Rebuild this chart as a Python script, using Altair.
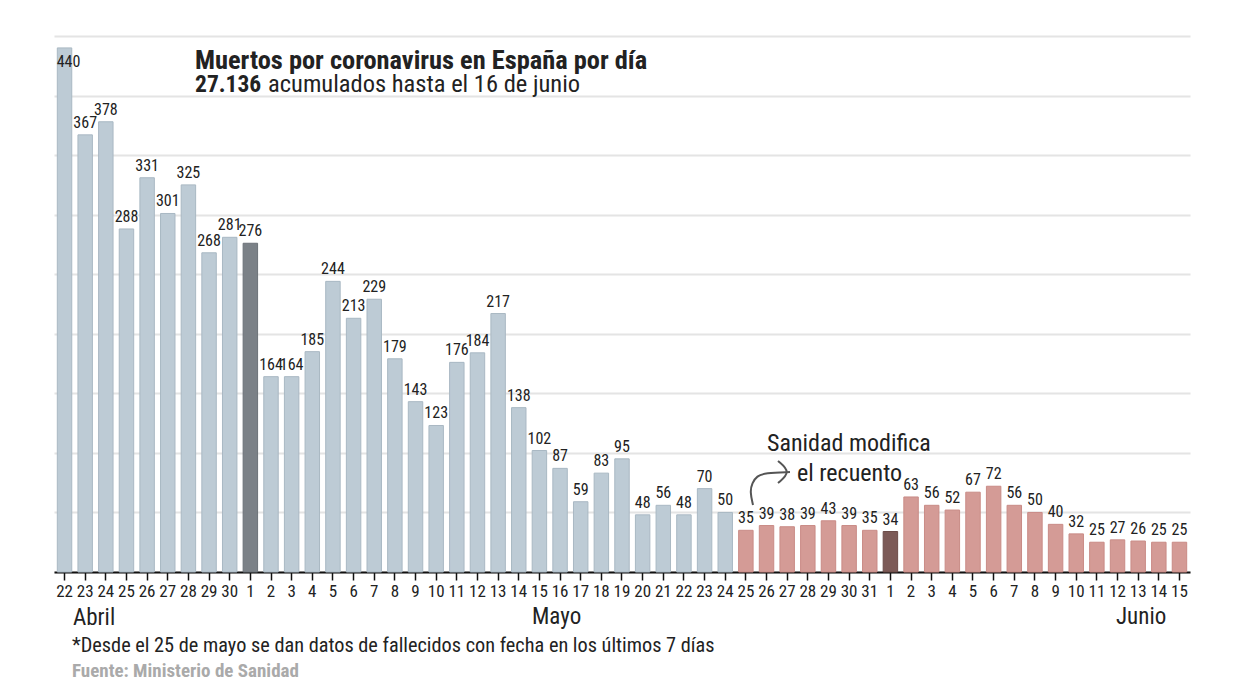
import altair as alt
import pandas as pd

FONT = "Roboto Condensed, Liberation Sans Narrow, DejaVu Sans Condensed, Roboto, sans-serif"

days = list(range(22, 31)) + list(range(1, 32)) + list(range(1, 16))
months = ["abr"] * 9 + ["may"] * 31 + ["jun"] * 15
values = [440, 367, 378, 288, 331, 301, 325, 268, 281,
          276, 164, 164, 185, 244, 213, 229, 179, 143, 123, 176, 184, 217, 138, 102, 87, 59, 83, 95, 48, 56, 48, 70, 50,
          35, 39, 38, 39, 43, 39, 35,
          34, 63, 56, 52, 67, 72, 56, 50, 40, 32, 25, 27, 26, 25, 25]
highlight_keys = ["may-1", "jun-1"]
change_key = "may-25"

keys = [f"{m}-{d}" for m, d in zip(months, days)]
change_idx = keys.index(change_key)
groups = []
for i, k in enumerate(keys):
    per = "antes" if i < change_idx else "despues"
    groups.append(per + ("_dest" if k in highlight_keys else ""))

df = pd.DataFrame({"key": keys, "value": values, "grupo": groups})

color_dom = ["antes", "antes_dest", "despues", "despues_dest"]
fill_rng = ["#bdcbd5", "#7b8187", "#d49b96", "#7c5a57"]
stroke_rng = ["#a9b8c3", "#6c7278", "#c98b86", "#6c4c49"]

x = alt.X("key:N", sort=keys,
          scale=alt.Scale(paddingInner=0.3, paddingOuter=0.16),
          axis=alt.Axis(title=None, labelExpr="split(datum.label,'-')[1]", labelAngle=0,
                        domainColor="#111", domainWidth=2, tickColor="#111", tickSize=8,
                        tickWidth=1.5, labelFontSize=17, labelFont=FONT, labelColor="#222",
                        labelPadding=3, grid=False))
y = alt.Y("value:Q", scale=alt.Scale(domain=[0, 450], nice=False),
          axis=alt.Axis(values=list(range(0, 451, 50)), labels=False, ticks=False, domain=False,
                        title=None, gridColor="#e4e4e4", gridWidth=2))

base = alt.Chart(df)
bars = base.mark_bar(strokeWidth=1).encode(
    x=x, y=y,
    color=alt.Color("grupo:N", scale=alt.Scale(domain=color_dom, range=fill_rng), legend=None),
    stroke=alt.Stroke("grupo:N", scale=alt.Scale(domain=color_dom, range=stroke_rng), legend=None),
)
labels_top = base.transform_filter("datum.value < 420").mark_text(
    baseline="bottom", dy=-4, font=FONT, fontSize=16, color="#222").encode(
    x=x, y=y, text="value:Q")
labels_in = base.transform_filter("datum.value >= 420").mark_text(
    baseline="top", dy=6, dx=4, font=FONT, fontSize=16, color="#222").encode(
    x=x, y=y, text="value:Q")

def txt(s, xp, yp, size, weight="normal", color="#222", align="left"):
    return alt.Chart(pd.DataFrame({"t": [s]})).mark_text(
        align=align, baseline="alphabetic", font=FONT, fontSize=size, fontWeight=weight, color=color
    ).encode(text="t:N", x=alt.value(xp), y=alt.value(yp))

# plot area starts at left=54, top=36 (values are relative to plot origin)
OX, OY = 54, 36
texts = [
    txt("Muertos por coronavirus en España por día", 195 - OX, 69 - OY, 26.4, "bold"),
    txt("27.136", 195 - OX, 92 - OY, 23.5, "bold"),
    txt("acumulados hasta el 16 de junio", 268 - OX, 92 - OY, 24.5),
    txt("Abril", 73 - OX, 625 - OY, 23),
    txt("Mayo", 532 - OX, 624 - OY, 23),
    txt("Junio", 1116 - OX, 624 - OY, 23),
    txt("*Desde el 25 de mayo se dan datos de fallecidos con fecha en los últimos 7 días", 72 - OX, 652 - OY, 20.3),
    txt("Fuente: Ministerio de Sanidad", 72 - OX, 677 - OY, 19, "bold", "#aaaaaa"),
    txt("Sanidad modifica", 767 - OX, 451 - OY, 24),
    txt("el recuento", 797 - OX, 481 - OY, 24),
]

arrow_df = pd.DataFrame({
    "px": [753, 750, 752, 757, 765, 790, 778, 791, 778],
    "py": [505, 492, 483, 476, 473, 472, 461, 472, 483],
    "part": ["curve"] * 6 + ["head"] * 3,
    "o": [0, 1, 2, 3, 4, 5, 0, 1, 2],
})
arrow_df["px"] = arrow_df["px"] - OX
arrow_df["py"] = arrow_df["py"] - OY
arrow = alt.Chart(arrow_df).mark_line(color="#555", strokeWidth=2, interpolate="basis").encode(
    x=alt.X("px:Q", scale=None), y=alt.Y("py:Q", scale=None), detail="part:N", order="o:Q")

chart = alt.layer(bars, labels_top, labels_in, arrow, *texts).properties(
    width=1136, height=536, autosize="none",
    padding={"left": 54, "top": 36, "right": 50, "bottom": 126},
    background="white",
).configure_view(stroke=None)

chart.save("out.html", embed_options={"renderer": "svg", "actions": False})
